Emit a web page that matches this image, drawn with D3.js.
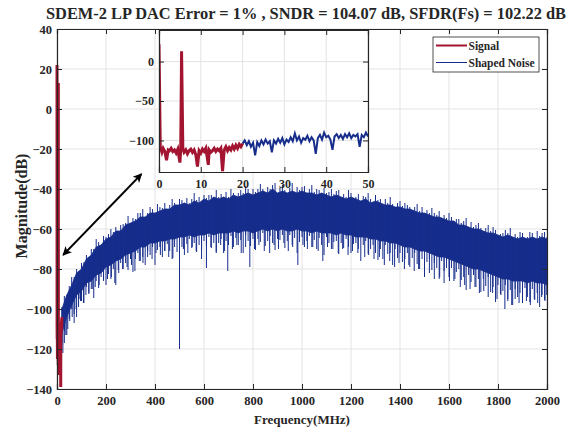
<!DOCTYPE html>
<html>
<head>
<meta charset="utf-8">
<script src="https://cdn.jsdelivr.net/npm/d3@7"></script>
<style>
    body { margin: 0; background: #fff; }
    svg text { font-family: "Liberation Serif", "Times New Roman", serif; font-weight: bold; fill: #262626; }
</style>
</head>
<body>
<svg id="chart" width="567" height="430"></svg>
<script>
"use strict";

const TITLE = "SDEM-2 LP DAC Error = 1% , SNDR = 104.07 dB, SFDR(Fs) = 102.22 dB";
const X_LABEL = "Frequency(MHz)";
const Y_LABEL = "Magnitude(dB)";
const SERIES_NAMES = ["Signal", "Shaped Noise"];

const X_TICKS = [0, 200, 400, 600, 800, 1000, 1200, 1400, 1600, 1800, 2000];
const Y_TICKS = [-140, -120, -100, -80, -60, -40, -20, 0, 20, 40];
const INSET_X_TICKS = [0, 10, 20, 30, 40, 50];
const INSET_Y_TICKS = [-100, -50, 0];

// in-band signal (0..20 MHz)
const sigFreq = [0, 0.3, 0.7, 1.0, 1.4, 1.8, 2.2, 2.5, 2.9, 3.3, 3.7, 4.1, 4.5, 5.0, 5.2, 5.4, 5.7, 6.0,
    6.4, 6.8, 7.2, 7.6, 8.0, 8.4, 8.8, 9.2, 9.6, 10.0, 10.4, 10.8, 11.2, 11.8, 12.0, 12.4, 12.8, 13.2,
    13.6, 14.0, 14.4, 14.8, 15.2, 15.6, 16.0, 16.4, 16.8, 17.2, 17.6, 18.0, 18.4, 18.8, 19.2, 19.6, 20.0];
const sigMag = [22, -108, -115, -110, -114, -125, -112, -113, -110, -114, -112, -116, -111, -128, -112, 13, -110, -115,
    -112, -117, -113, -111, -115, -112, -118, -133, -113, -116, -111, -114, -110, -131, -112, -115, -113, -110,
    -114, -111, -113, -110, -139, -112, -108, -113, -109, -112, -107, -111, -106, -110, -105, -108, -104];

// shaped noise, fine view 20..50 MHz every 0.5 MHz
const noiseFineMag = [-104, -100, -106, -101, -108, -103, -119, -102, -107, -100,
    -105, -99, -104, -101, -115, -100, -104, -98, -103, -97,
    -105, -99, -102, -96, -101, -91, -100, -95, -103, -97,
    -99, -94, -101, -96, -100, -117, -97, -93, -99, -90,
    -96, -94, -99, -112, -95, -92, -97, -93, -98, -92,
    -96, -91, -97, -93, -95, -92, -108, -93, -96, -90, -95];

// shaped noise, full view: upper edge and lower edge of the dense band, every 20 MHz from 20 to 2000
const noiseTop = [-98, -91, -86, -80, -78, -73, -71, -67, -66, -63,
    -62, -59, -59, -56, -55, -54, -52, -52, -50, -50,
    -49, -48, -48, -46, -46, -45, -46, -44, -45, -43,
    -44, -42, -43, -42, -43, -41, -42, -41, -40, -41,
    -40, -39, -40, -38, -40, -39, -40, -39, -40, -39,
    -40, -40, -41, -40, -41, -42, -41, -42, -43, -42,
    -43, -44, -43, -45, -44, -45, -46, -46, -47, -47,
    -48, -48, -49, -50, -50, -51, -52, -52, -53, -54,
    -54, -56, -56, -57, -58, -58, -59, -60, -60, -61,
    -62, -61, -62, -63, -62, -63, -62, -63, -62, -63];
const noiseBody = [-112, -104, -98, -93, -91, -87, -86, -83, -82, -79,
    -78, -76, -75, -73, -72, -71, -69, -69, -67, -67,
    -66, -66, -65, -65, -64, -64, -63, -64, -63, -63,
    -62, -63, -62, -62, -62, -61, -62, -61, -61, -62,
    -61, -60, -61, -60, -61, -60, -61, -61, -60, -61,
    -61, -62, -61, -62, -62, -62, -63, -62, -63, -63,
    -64, -64, -64, -65, -65, -66, -66, -67, -67, -68,
    -69, -69, -70, -71, -71, -72, -73, -74, -74, -75,
    -76, -77, -78, -79, -80, -80, -81, -82, -83, -84,
    -85, -85, -86, -86, -86, -87, -86, -87, -87, -88];

// hairline texture every 10 MHz from 20 to 2000: dB below the band bottom / dB above the band top
const hairDown = [6, 3, 9, 4, 2, 7, 11, 3, 5, 8,
    2, 6, 4, 10, 3, 7, 2, 5, 9, 4,
    7, 3, 12, 5, 2, 6, 4, 8, 3, 10,
    4, 2, 7, 5, 9, 3, 6, 2, 11, 4,
    3, 8, 5, 2, 6, 10, 4, 7, 3, 5,
    9, 4, 2, 6, 3, 8, 5, 12, 3, 6,
    2, 7, 4, 9, 5, 3, 10, 4, 6, 2,
    8, 3, 6, 4, 11, 2, 5, 7, 3, 9,
    4, 6, 2, 8, 5, 3, 7, 10, 4, 5,
    3, 9, 5, 2, 7, 4, 12, 6, 3, 8,
    5, 2, 7, 4, 9, 3, 6, 11, 2, 5,
    8, 4, 3, 10, 5, 7, 2, 6, 9, 4,
    3, 6, 12, 4, 2, 8, 5, 3, 7, 10,
    4, 9, 2, 6, 5, 11, 3, 7, 4, 8,
    6, 3, 10, 5, 2, 7, 9, 4, 12, 5,
    3, 8, 4, 6, 11, 2, 7, 5, 9, 4,
    10, 5, 3, 8, 6, 12, 4, 7, 3, 9,
    5, 11, 4, 7, 2, 9, 6, 13, 4, 8,
    6, 3, 10, 5, 12, 4, 8, 6, 11, 3,
    7, 10, 4, 9, 5, 12, 6, 8, 5];
const hairUp = [1, 3, 0, 2, 4, 1, 2, 0, 3, 1,
    2, 0, 3, 1, 4, 2, 0, 3, 1, 2,
    4, 1, 2, 0, 3, 2, 1, 4, 0, 2,
    1, 3, 2, 4, 0, 1, 3, 2, 0, 4,
    2, 1, 3, 0, 2, 4, 1, 0, 3, 2,
    0, 3, 1, 2, 4, 1, 3, 0, 2, 1,
    3, 2, 0, 4, 1, 2, 0, 3, 1, 4,
    1, 0, 2, 3, 1, 4, 2, 0, 3, 1,
    2, 4, 1, 0, 3, 1, 2, 4, 0, 2,
    3, 1, 0, 2, 4, 0, 3, 1, 2, 3,
    0, 2, 4, 1, 3, 2, 0, 3, 1, 2,
    4, 1, 2, 3, 0, 2, 1, 4, 2, 0,
    1, 3, 0, 2, 1, 4, 2, 0, 3, 1,
    2, 0, 3, 1, 4, 1, 0, 2, 3, 1,
    3, 2, 1, 0, 2, 4, 1, 3, 0, 2,
    1, 4, 2, 1, 3, 0, 2, 1, 4, 2,
    0, 2, 3, 1, 2, 4, 0, 3, 1, 2,
    3, 1, 0, 2, 4, 1, 3, 2, 0, 1,
    2, 3, 1, 4, 0, 2, 1, 3, 2, 0,
    1, 3, 2, 0, 4, 1, 2, 3, 1];

// deep notches below the band [MHz, dB]
const noiseDips = [[24, -122], [30, -117], [36, -113], [44, -110], [52, -106], [62, -104], [70, -107], [78, -100],
    [88, -99], [96, -96], [108, -97], [118, -93], [130, -92], [146, -90], [156, -89], [172, -88], [190, -86],
    [206, -85], [222, -84], [236, -87], [252, -82], [268, -80], [286, -79], [304, -78], [318, -81], [336, -76],
    [351, -77], [370, -74], [388, -75], [404, -72], [422, -73], [440, -71], [456, -74], [473, -74.5], [500, -120],
    [516, -70], [534, -72], [552, -69], [568, -71], [590, -70], [610, -79.5], [628, -69], [650, -72], [668, -68],
    [684, -71], [697, -81], [716, -70], [734, -68], [752, -72], [770, -69], [787, -79], [806, -70], [824, -68],
    [846, -71], [868, -72], [886, -68], [904, -70], [926, -67], [944, -71], [962, -69], [983, -78], [1004, -68],
    [1022, -70], [1044, -69], [1066, -71], [1085, -76], [1104, -69], [1126, -70], [1148, -72], [1166, -70],
    [1188, -73], [1206, -71], [1228, -72], [1256, -74], [1272, -73], [1294, -75], [1316, -74], [1336, -78],
    [1358, -76], [1378, -79], [1396, -77], [1418, -80], [1436, -78], [1458, -81], [1476, -80], [1500, -84],
    [1520, -82], [1540, -85], [1562, -84], [1580, -87], [1602, -86], [1624, -85], [1646, -89], [1664, -88],
    [1686, -90], [1706, -89], [1724, -92], [1742, -91], [1760, -94], [1778, -92], [1796, -95], [1812, -93],
    [1828, -100], [1840, -96], [1856, -98], [1870, -95], [1886, -97], [1900, -94], [1916, -96], [1932, -98],
    [1948, -95], [1962, -97], [1978, -94], [1992, -96], [2000, -93]];

// double arrow pointing from the band edge to the zoomed view [MHz, dB]
const arrowEnds = [[25, -73], [345, -32.5]];

const RED = "#A2142F";
const BLUE = "#162D8C";
const AXIS = "#262626";
const GRID = "#e3e3e3";

const svg = d3.select("#chart");
const defs = svg.append("defs");

const MAIN = {left: 57, top: 29, width: 490, height: 360};
const INSET = {left: 159, top: 30, width: 209, height: 142};

function drawGrid(g, x, y, xt, yt, w, h) {
    g.append("g").selectAll("line").data(xt).join("line")
        .attr("x1", d => x(d)).attr("x2", d => x(d))
        .attr("y1", 0).attr("y2", h)
        .attr("stroke", GRID).attr("stroke-width", 1);
    g.append("g").selectAll("line").data(yt).join("line")
        .attr("y1", d => y(d)).attr("y2", d => y(d))
        .attr("x1", 0).attr("x2", w)
        .attr("stroke", GRID).attr("stroke-width", 1);
}

function drawAxes(g, x, y, xt, yt, w, h, fontSize) {
    g.append("g").attr("transform", "translate(0," + h + ")")
        .call(d3.axisBottom(x).tickValues(xt).tickSize(-5).tickPadding(7).tickFormat(d3.format("d")));
    g.append("g")
        .call(d3.axisLeft(y).tickValues(yt).tickSize(-5).tickPadding(5).tickFormat(d3.format("d")));
    g.append("g").call(d3.axisTop(x).tickValues(xt).tickSize(-5).tickFormat(""));
    g.append("g").attr("transform", "translate(" + w + ",0)")
        .call(d3.axisRight(y).tickValues(yt).tickSize(-5).tickFormat(""));
    g.selectAll(".domain").attr("stroke", AXIS).attr("stroke-width", 1.2);
    g.selectAll(".tick line").attr("stroke", AXIS).attr("stroke-width", 1);
    g.selectAll(".tick text").attr("font-size", fontSize).attr("fill", AXIS)
        .style("font-family", "'Liberation Serif', serif").style("font-weight", "bold");
}

// ---------- main axes ----------
const x = d3.scaleLinear().domain([0, 2000]).range([0, MAIN.width]);
const y = d3.scaleLinear().domain([-140, 40]).range([MAIN.height, 0]);
const g = svg.append("g").attr("transform", "translate(" + MAIN.left + "," + MAIN.top + ")");

drawGrid(g, x, y, X_TICKS, Y_TICKS, MAIN.width, MAIN.height);

defs.append("clipPath").attr("id", "clip-main").append("rect")
    .attr("x", -2).attr("width", MAIN.width + 2).attr("height", MAIN.height + 1);
const plot = g.append("g").attr("clip-path", "url(#clip-main)");

const noiseFreq = noiseTop.map((v, i) => 20 + 20 * i);
const topAt = d3.scaleLinear().domain(noiseFreq).range(noiseTop);
const bodyAt = d3.scaleLinear().domain(noiseFreq).range(noiseBody);
const band = noiseFreq.map((f, i) => ({f: f, top: noiseTop[i] - 2, low: noiseBody[i]}));
const hairs = hairDown.map((d, i) => {
    const f = 20 + 10 * i;
    return {f: f, lo: bodyAt(f) - d, hi: topAt(f) - 2 + hairUp[i]};
});

plot.append("g").selectAll("line").data(noiseDips).join("line")
    .attr("x1", d => x(d[0])).attr("x2", d => x(d[0]))
    .attr("y1", d => y(d[1])).attr("y2", d => y(topAt(Math.max(20, d[0])) - 3))
    .attr("stroke", BLUE).attr("stroke-width", 1);

plot.append("path").datum(band)
    .attr("d", d3.area().x(d => x(d.f)).y0(d => y(d.low)).y1(d => y(d.top)))
    .attr("fill", BLUE).attr("stroke", BLUE).attr("stroke-width", 0.8);

plot.append("g").selectAll("line").data(hairs).join("line")
    .attr("x1", d => x(d.f)).attr("x2", d => x(d.f))
    .attr("y1", d => y(d.lo)).attr("y2", d => y(d.hi))
    .attr("stroke", BLUE).attr("stroke-width", 1);

const sigData = sigFreq.map((f, i) => [f, sigMag[i]]);
plot.append("path").datum(sigData)
    .attr("d", d3.line().x(d => x(d[0])).y(d => y(d[1])))
    .attr("fill", "none").attr("stroke", RED).attr("stroke-width", 3);

drawAxes(g, x, y, X_TICKS, Y_TICKS, MAIN.width, MAIN.height, 12.5);

// arrow
defs.append("marker").attr("id", "arrowhead")
    .attr("viewBox", "0 0 10 10").attr("refX", 9).attr("refY", 5)
    .attr("markerUnits", "userSpaceOnUse").attr("markerWidth", 11).attr("markerHeight", 9)
    .attr("orient", "auto-start-reverse")
    .append("path").attr("d", "M0,0L10,5L0,10L2.5,5Z").attr("fill", "#000");
g.append("line")
    .attr("x1", x(arrowEnds[0][0])).attr("y1", y(arrowEnds[0][1]))
    .attr("x2", x(arrowEnds[1][0])).attr("y2", y(arrowEnds[1][1]))
    .attr("stroke", "#000").attr("stroke-width", 1.8)
    .attr("marker-start", "url(#arrowhead)").attr("marker-end", "url(#arrowhead)");

// ---------- inset ----------
const ix = d3.scaleLinear().domain([0, 50]).range([0, INSET.width]);
const iy = d3.scaleLinear().domain([-140, 40]).range([INSET.height, 0]);
const ig = svg.append("g").attr("transform", "translate(" + INSET.left + "," + INSET.top + ")");
ig.append("rect").attr("width", INSET.width).attr("height", INSET.height).attr("fill", "#fff");
drawGrid(ig, ix, iy, INSET_X_TICKS, INSET_Y_TICKS, INSET.width, INSET.height);

defs.append("clipPath").attr("id", "clip-inset").append("rect")
    .attr("width", INSET.width).attr("height", INSET.height);
const iplot = ig.append("g").attr("clip-path", "url(#clip-inset)");

const fineData = noiseFineMag.map((v, i) => [20 + 0.5 * i, v]);
iplot.append("path").datum(fineData)
    .attr("d", d3.line().x(d => ix(d[0])).y(d => iy(d[1])))
    .attr("fill", "none").attr("stroke", BLUE).attr("stroke-width", 2);
iplot.append("path").datum(sigData)
    .attr("d", d3.line().x(d => ix(d[0])).y(d => iy(d[1])))
    .attr("fill", "none").attr("stroke", RED).attr("stroke-width", 3);

drawAxes(ig, ix, iy, INSET_X_TICKS, INSET_Y_TICKS, INSET.width, INSET.height, 12);

// ---------- legend ----------
const legend = svg.append("g").attr("transform", "translate(433,37)");
legend.append("rect").attr("width", 106).attr("height", 35)
    .attr("fill", "#fff").attr("stroke", AXIS).attr("stroke-width", 0.8);
const legendRows = legend.selectAll("g.row").data(SERIES_NAMES).join("g")
    .attr("class", "row")
    .attr("transform", (d, i) => "translate(0," + (8.5 + i * 17) + ")");
legendRows.append("line")
    .attr("x1", 3).attr("x2", 34)
    .attr("stroke", (d, i) => i === 0 ? RED : BLUE)
    .attr("stroke-width", (d, i) => i === 0 ? 2 : 1);
legendRows.append("text")
    .attr("x", 35.5).attr("y", 4)
    .attr("font-size", 11.5)
    .text(d => d);

// ---------- titles ----------
svg.append("text")
    .attr("x", 306).attr("y", 19)
    .attr("text-anchor", "middle").attr("font-size", 16.4)
    .text(TITLE);
svg.append("text")
    .attr("x", MAIN.left + MAIN.width / 2).attr("y", 424)
    .attr("text-anchor", "middle").attr("font-size", 13)
    .text(X_LABEL);
svg.append("text")
    .attr("transform", "translate(27,206) rotate(-90)")
    .attr("text-anchor", "middle").attr("font-size", 16)
    .text(Y_LABEL);
</script>
</body>
</html>
